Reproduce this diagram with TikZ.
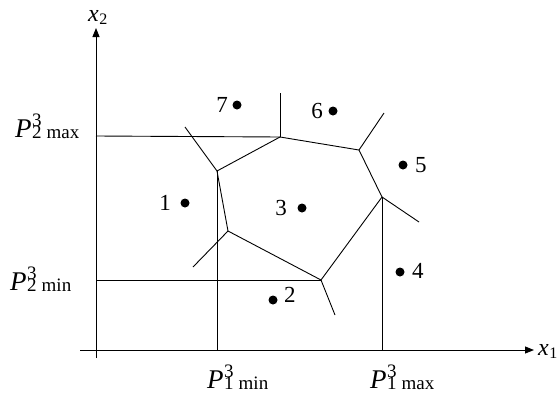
\documentclass[tikz,border=0pt]{standalone}
\usepackage{fontspec}
\setmainfont{Liberation Serif}
\usetikzlibrary{arrows.meta}
\newcommand{\bigP}{{\fontsize{27}{28}\selectfont\itshape P}}
\newcommand{\smallt}[1]{{\fontsize{19}{20}\selectfont #1}}
\newcommand{\lbl}[3]{\bigP\kern0.5pt\rlap{\raisebox{11pt}{\smallt{#1}}}\raisebox{-1pt}{\smallt{#2\hspace{5pt}#3}}}
\begin{document}
\begin{tikzpicture}[x=1pt,y=-1pt,
  edge/.style={line width=0.9pt},
  axis/.style={line width=0.9pt,-{Triangle[length=9pt,width=7pt]}},
  site/.style={circle,fill=black,inner sep=0pt,minimum size=9pt},
  num/.style={font=\fontsize{23}{24}\selectfont,inner sep=0pt},
  plabel/.style={inner sep=0pt}]
\useasboundingbox (0,0) rectangle (557,402);
% axes
\coordinate (o1) at (80,350);
\coordinate (x1e) at (534,350);
\coordinate (o2) at (96,358);
\coordinate (x2e) at (96,28);
\draw[axis] (o1) -- (x1e);
\draw[axis] (o2) -- (x2e);
\node[plabel,anchor=base west] (lx1) at (538,355) {\fontsize{24}{25}\selectfont\itshape x\kern0.5pt\raisebox{-3pt}{\upshape\fontsize{16}{17}\selectfont 1}};
\node[plabel,anchor=base west] (lx2) at (88,21) {\fontsize{24}{25}\selectfont\itshape x\kern0.5pt\raisebox{-3pt}{\upshape\fontsize{16}{17}\selectfont 2}};
% vertices
\coordinate (A) at (217,171);
\coordinate (B) at (280,137);
\coordinate (C) at (359,150);
\coordinate (D) at (382,197);
\coordinate (E) at (321,280);
\coordinate (F) at (228,231);
% outer rays
\coordinate (Ar) at (185,127);
\coordinate (Br) at (280,93);
\coordinate (Cr) at (384,113);
\coordinate (Dr) at (419,222);
\coordinate (Er) at (335,315);
\coordinate (Fr) at (193,267);
% axis feet
\coordinate (Y1) at (96,136);
\coordinate (Y2) at (96,280);
\coordinate (X1) at (217,350);
\coordinate (X2) at (382,350);
\draw[edge] (A) -- (B) -- (C) -- (D) -- (E) -- (F) -- cycle;
\draw[edge] (A) -- (Ar);
\draw[edge] (B) -- (Br);
\draw[edge] (C) -- (Cr);
\draw[edge] (D) -- (Dr);
\draw[edge] (E) -- (Er);
\draw[edge] (F) -- (Fr);
\draw[edge] (Y1) -- (B);
\draw[edge] (Y2) -- (E);
\draw[edge] (A) -- (X1);
\draw[edge] (D) -- (X2);
% sites
\node[site] (s1) at (185,203) {};
\node[site] (s2) at (273,300) {};
\node[site] (s3) at (302,208) {};
\node[site] (s4) at (400,272) {};
\node[site] (s5) at (403,165) {};
\node[site] (s6) at (333,111) {};
\node[site] (s7) at (237,105) {};
\node[num,anchor=east] (n1) at ([xshift=-14pt]s1.center) {1};
\node[num,anchor=west] (n2) at ([xshift=11pt,yshift=5pt]s2.center) {2};
\node[num,anchor=east] (n3) at ([xshift=-15pt]s3.center) {3};
\node[num,anchor=west] (n4) at ([xshift=12pt,yshift=1pt]s4.center) {4};
\node[num,anchor=west] (n5) at ([xshift=12pt]s5.center) {5};
\node[num,anchor=east] (n6) at ([xshift=-10pt]s6.center) {6};
\node[num,anchor=east] (n7) at ([xshift=-9pt]s7.center) {7};
% bound labels
\node[plabel,anchor=base west] (p2max) at (15,137) {\lbl{3}{2}{max}};
\node[plabel,anchor=base west] (p2min) at (10,290) {\lbl{3}{2}{min}};
\node[plabel,anchor=base west] (p1min) at (207,388) {\lbl{3}{1}{min}};
\node[plabel,anchor=base west] (p1max) at (370,388) {\lbl{3}{1}{max}};
\end{tikzpicture}
\end{document}
